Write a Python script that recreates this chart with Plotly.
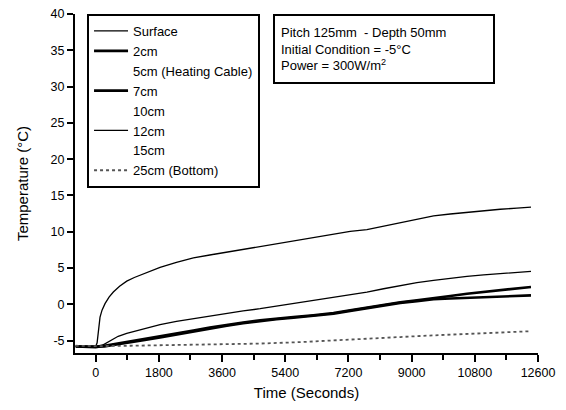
import plotly.graph_objects as go

# ---- data ----
t_surface = [-570, -300, 0, 40, 80, 123, 180, 265, 380, 502, 680, 884, 1100, 1357, 1600, 1833,
             2300, 2783, 3250, 3735, 4200, 4684, 5150, 5634, 6200, 6774, 7250, 7726, 8200,
             8676, 9150, 9625, 10100, 10577, 11050, 11526, 12000, 12400]
v_surface = [-5.8, -5.8, -5.8, -5.3, -3.0, -1.75, -0.8, 0.1, 1.0, 1.7, 2.5, 3.2, 3.7, 4.2, 4.7, 5.1,
             5.8, 6.4, 6.8, 7.2, 7.6, 8.0, 8.4, 8.8, 9.2, 9.7, 10.05, 10.3, 10.8,
             11.3, 11.8, 12.2, 12.45, 12.7, 12.9, 13.1, 13.25, 13.4]

t_12cm = [-570, -300, 0, 200, 408, 640, 884, 1357, 1833, 2300, 2783, 3250, 3735, 4200, 4684,
          5150, 5634, 5825, 6774, 7250, 7726, 8200, 8676, 9150, 9625, 10100, 10577, 11050, 11526, 12000, 12400]
v_12cm = [-5.8, -5.8, -5.8, -5.6, -5.0, -4.4, -4.0, -3.35, -2.8, -2.35, -1.97, -1.6, -1.2, -0.9, -0.6,
          -0.25, 0.1, 0.2, 0.9, 1.3, 1.7, 2.15, 2.6, 3.0, 3.3, 3.6, 3.85, 4.05, 4.2, 4.4, 4.55]

t_2cm = [-570, -300, 0, 250, 500, 884, 1357, 1833, 2300, 2783, 3250, 3735, 4200, 4684, 5150,
         5634, 6200, 6774, 7250, 7726, 8200, 8676, 9150, 9625, 10100, 10577, 11050, 11526, 12000, 12400]
v_2cm = [-5.8, -5.8, -5.9, -5.7, -5.5, -5.2, -4.8, -4.4, -4.0, -3.6, -3.2, -2.8, -2.5, -2.2, -1.95,
         -1.75, -1.5, -1.2, -0.8, -0.4, -0.05, 0.3, 0.55, 0.8, 1.15, 1.47, 1.7, 1.93, 2.15, 2.4]

t_7cm = [-570, -300, 0, 250, 500, 884, 1357, 1833, 2300, 2783, 3250, 3735, 4200, 4684, 5150,
         5634, 6200, 6774, 7250, 7726, 8200, 8676, 9150, 9625, 10100, 10577, 11050, 11526, 12000, 12400]
v_7cm = [-5.8, -5.8, -5.9, -5.8, -5.6, -5.35, -4.95, -4.55, -4.15, -3.75, -3.3, -2.95, -2.6, -2.3, -2.05,
         -1.85, -1.6, -1.3, -0.9, -0.5, -0.15, 0.2, 0.45, 0.7, 0.8, 0.87, 0.98, 1.1, 1.17, 1.24]

t_25cm = [-570, 0, 1000, 1833, 2783, 3735, 4684, 5825, 6965, 7726, 8676, 9625, 10577, 11526, 12400]
v_25cm = [-5.7, -5.75, -5.7, -5.65, -5.6, -5.5, -5.4, -5.2, -4.96, -4.73, -4.5, -4.27, -4.04, -3.9, -3.7]

x_tickvals = [0, 1800, 3600, 5400, 7200, 9000, 10800, 12600]
x_ticktext = ["0", "1800", "3600", "5400", "7200", "9000", "10800", "12600"]
y_tickvals = [-5, 0, 5, 10, 15, 20, 25, 30, 35, 40]
y_ticktext = ["-5", "0", "5", "10", "15", "20", "25", "30", "35", "40"]

FONT = "Liberation Sans, Arial, sans-serif"

fig = go.Figure()
fig.add_trace(go.Scatter(x=t_surface, y=v_surface, name="Surface", mode="lines",
                         line=dict(color="black", width=1.3)))
fig.add_trace(go.Scatter(x=t_2cm, y=v_2cm, name="2cm", mode="lines",
                         line=dict(color="black", width=2.6)))
fig.add_trace(go.Scatter(x=[None], y=[None], name="5cm (Heating Cable)", mode="lines",
                         line=dict(color="rgba(0,0,0,0)", width=1)))
fig.add_trace(go.Scatter(x=t_7cm, y=v_7cm, name="7cm", mode="lines",
                         line=dict(color="black", width=2.6)))
fig.add_trace(go.Scatter(x=[None], y=[None], name="10cm", mode="lines",
                         line=dict(color="rgba(0,0,0,0)", width=1)))
fig.add_trace(go.Scatter(x=t_12cm, y=v_12cm, name="12cm", mode="lines",
                         line=dict(color="black", width=1.3)))
fig.add_trace(go.Scatter(x=[None], y=[None], name="15cm", mode="lines",
                         line=dict(color="rgba(0,0,0,0)", width=1)))
fig.add_trace(go.Scatter(x=t_25cm, y=v_25cm, name="25cm (Bottom)", mode="lines",
                         line=dict(color="#555555", width=1.8, dash="dot")))

fig.update_layout(
    width=566, height=410,
    margin=dict(l=75, r=28, t=14, b=57),
    paper_bgcolor="white", plot_bgcolor="white",
    font=dict(family=FONT, size=12, color="black"),
    showlegend=True,
    legend=dict(x=0.026, y=1, xanchor="left", yanchor="top",
                bordercolor="black", borderwidth=2, bgcolor="white",
                font=dict(family=FONT, size=13), tracegroupgap=0, itemwidth=34),
    xaxis=dict(range=[-590, 12600], tickvals=x_tickvals, ticktext=x_ticktext,
               showline=True, linecolor="black", linewidth=2, mirror=False,
               ticks="outside", ticklen=7, tickwidth=2, tickcolor="black",
               minor=dict(dtick=900, tick0=0, ticks="outside", ticklen=5, tickwidth=2, tickcolor="black"),
               showgrid=False, zeroline=False, automargin=False,
               tickfont=dict(size=12.5),
               title=dict(text="Time (Seconds)", font=dict(size=15), standoff=8)),
    yaxis=dict(range=[-6.7, 40], tickvals=y_tickvals, ticktext=y_ticktext,
               showline=True, linecolor="black", linewidth=2, mirror=False,
               ticks="outside", ticklen=6, tickwidth=2, tickcolor="black",
               showgrid=False, zeroline=False, automargin=False,
               tickfont=dict(size=12.5),
               title=dict(text="Temperature (°C)", font=dict(size=15), standoff=18)),
)

fig.add_annotation(
    xref="paper", yref="paper", x=0.428, y=1.0, xanchor="left", yanchor="top",
    text="Pitch 125mm  - Depth 50mm<br>Initial Condition = -5°C<br>Power = 300W/m<sup>2</sup>",
    showarrow=False, align="left", width=206, height=54, borderpad=6,
    bordercolor="black", borderwidth=2, bgcolor="white",
    font=dict(family=FONT, size=13, color="black"),
)

fig.write_html("out.html", config={"displayModeBar": False},
               post_script="document.body.style.margin='0px';")
